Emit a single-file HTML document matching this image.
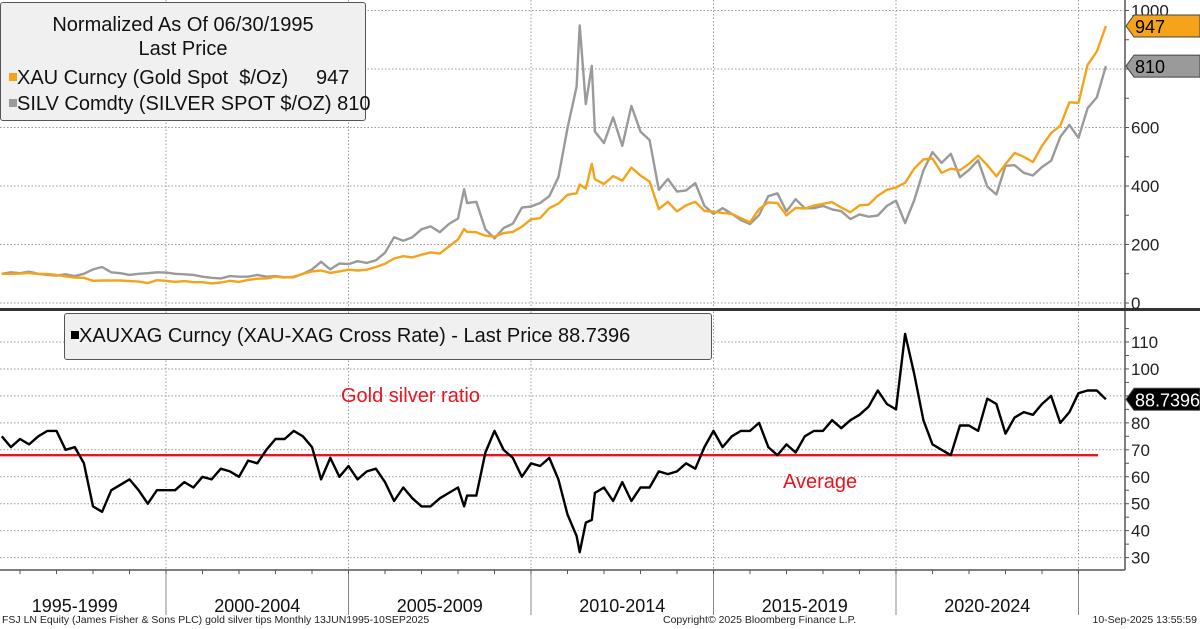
<!DOCTYPE html>
<html><head><meta charset="utf-8"><style>
body{margin:0;background:#fff;}
svg{display:block;font-family:"Liberation Sans",sans-serif;}
</style></head><body>
<svg id="c" width="1200" height="629" viewBox="0 0 1200 629"></svg>
<script>
const dates=["1995-06","1995-09","1995-12",
"1996-03","1996-06","1996-09","1996-12","1997-03","1997-06","1997-09","1997-12",
"1998-03","1998-06","1998-09","1998-12","1999-03","1999-06","1999-09","1999-12",
"2000-03","2000-06","2000-09","2000-12","2001-03","2001-06","2001-09","2001-12",
"2002-03","2002-06","2002-09","2002-12","2003-03","2003-06","2003-09","2003-12",
"2004-03","2004-06","2004-09","2004-12","2005-03","2005-06","2005-09","2005-12",
"2006-03","2006-06","2006-09","2006-12","2007-03","2007-06","2007-09","2007-12",
"2008-02","2008-03","2008-06","2008-09","2008-12","2009-03","2009-06","2009-09","2009-12",
"2010-03","2010-06","2010-09","2010-12","2011-03","2011-04","2011-06","2011-08","2011-09","2011-12",
"2012-03","2012-06","2012-09","2012-12","2013-03","2013-06","2013-09","2013-12",
"2014-03","2014-06","2014-09","2014-12","2015-03","2015-06","2015-09","2015-12",
"2016-03","2016-06","2016-09","2016-12","2017-03","2017-06","2017-09","2017-12",
"2018-03","2018-06","2018-09","2018-12","2019-03","2019-06","2019-09","2019-12",
"2020-03","2020-06","2020-09","2020-12","2021-03","2021-06","2021-09","2021-12",
"2022-03","2022-06","2022-09","2022-12","2023-03","2023-06","2023-09","2023-12",
"2024-03","2024-06","2024-09","2024-12","2025-03","2025-06","2025-09"];
const gold=[100,100,101,103,99,99,96,91,87,86,76,77,77,77,75,73,68,78,76,72,75,71,71,67,70,76,72,79,83,84,90,87,90,100,108,111,103,108,114,111,114,123,134,152,160,156,165,173,169,193,217,
253,243,242,230,227,239,243,261,286,290,324,340,370,375,405,391,476,423,407,434,418,463,436,415,321,346,313,334,346,315,312,308,305,290,276,321,344,342,300,325,323,333,339,345,326,310,334,336,367,387,395,411,460,491,494,445,459,454,476,504,471,433,475,513,500,482,537,581,606,686,684,814,860,947];
const silver=[100,105,102,107,100,96,94,98,92,100,115,123,105,102,96,100,102,105,104,100,98,96,90,86,84,92,90,90,96,90,92,88,88,100,115,141,115,135,133,143,137,146,172,225,213,225,252,262,242,270,289,
389,342,346,252,221,256,271,326,330,342,365,430,598,740,949,680,811,586,547,635,537,674,586,557,387,424,381,385,410,332,305,324,305,283,270,301,365,375,313,355,324,324,332,320,314,287,303,295,299,332,350,273,352,453,516,479,510,430,455,488,398,371,469,471,445,436,465,486,568,609,564,666,703,810];
const ratio=[75,71,74,72,75,77,77,70,71,65,49,47,55,57,59,55,50,55,55,55,58,56,60,59,63,62,60,66,65,70,74,74,77,75,71,59,67,60,64,59,62,63,58,51,56,52,49,49,52,54,56,
49,53,53,69,77,70,67,60,65,64,67,59,46,38,32,43,44,54,56,51,58,51,56,56,62,61,62,65,63,71,77,71,75,77,77,80,71,68,72,69,75,77,77,81,78,81,83,86,92,87,85,113,98,81,72,70,68,79,79,77,89,87,76,82,84,83,87,90,80,84,91,92,92,88.74];
const topTicks=[0,200,400,600,800,1000];
const topLabels=["0","200","400","600","","1000"];
const botTicks=[30,40,50,60,70,80,90,100,110];
const botLabels=["30","40","50","60","70","80","","100","110"];
const periods=["1995-1999","2000-2004","2005-2009","2010-2014","2015-2019","2020-2024"];
const ratioAverage=68;

const NS="http://www.w3.org/2000/svg";
const svg=document.getElementById('c');
function mk(tag,attrs,parent){const e=document.createElementNS(NS,tag);for(const k in attrs)e.setAttribute(k,attrs[k]);(parent||svg).appendChild(e);return e;}
function tx(d){const [y,m]=d.split('-').map(Number);return 166+(y+m/12-2000)*36.5;}
function yx(yr){return 166+(yr-2000)*36.5;}
function yTop(v){return 303-v*0.2925;}
function yBot(v){return 342+(110-v)*2.695;}
const PR=1124;

// grids
for(const t of topTicks){const g=mk('line',{x1:0,x2:PR,y1:yTop(t),y2:yTop(t),stroke:'#999','stroke-dasharray':'1.5,2','stroke-width':1});

}
for(const t of botTicks){const g=mk('line',{x1:0,x2:PR,y1:yBot(t),y2:yBot(t),stroke:'#999','stroke-dasharray':'1.5,2','stroke-width':1});

}
for(let yr=2000;yr<=2025;yr+=5){const g=mk('line',{x1:yx(yr),x2:yx(yr),y1:0,y2:570,stroke:'#999','stroke-dasharray':'1.5,2','stroke-width':1});


const s=mk('line',{x1:yx(yr),x2:yx(yr),y1:570,y2:615,stroke:'#888','stroke-width':1});

}

// series
function line(vals,fy,color,w,name){let d='';vals.forEach((v,i)=>{d+=(i?'L':'M')+tx(dates[i]).toFixed(1)+','+fy(v).toFixed(1);});
const p=mk('path',{d:d,fill:'none',stroke:color,'stroke-width':w,'stroke-linejoin':'round'});

}
line(silver,yTop,'#9a9a9a',2.4,'silver-line');
line(gold,yTop,'#f5a31a',2.4,'gold-line');
const av=mk('line',{x1:0,x2:1098,y1:yBot(ratioAverage),y2:yBot(ratioAverage),stroke:'#e8141e','stroke-width':2.4});


line(ratio,yBot,'#000',2.4,'ratio-line');

// axes
mk('line',{x1:PR+1,x2:PR+1,y1:0,y2:570,stroke:'#555','stroke-width':1.5});
mk('rect',{x:0,y:308,width:1200,height:3,fill:'#333'});
mk('line',{x1:0,x2:PR+1,y1:570,y2:570,stroke:'#555','stroke-width':1.5});
for(let yr=1996;yr<=2025;yr++){mk('line',{x1:yx(yr),x2:yx(yr),y1:570,y2:574,stroke:'#555'});}
for(let v=0;v<=1000;v+=100){mk('line',{x1:PR+1,x2:PR+5,y1:yTop(v),y2:yTop(v),stroke:'#555'});}
for(let v=30;v<=115;v+=5){mk('line',{x1:PR+1,x2:PR+5,y1:yBot(v),y2:yBot(v),stroke:'#555'});}
topTicks.forEach((t,i)=>{if(!topLabels[i])return;const e=mk('text',{x:1131,y:yTop(t)+6,'font-size':17,fill:'#222'});e.textContent=topLabels[i];

});
botTicks.forEach((t,i)=>{if(!botLabels[i])return;const e=mk('text',{x:1131,y:yBot(t)+6,'font-size':17,fill:'#222'});e.textContent=botLabels[i];

});
periods.forEach((p,i)=>{const e=mk('text',{x:yx(1997.5+5*i),y:612,'font-size':18,'text-anchor':'middle',fill:'#111'});e.textContent=p;

});

// value tags
function tag(y,label,bg,fg,name){const p=mk('path',{d:`M1126,${y} L1134,${y-11} L1200,${y-11} L1200,${y+11} L1134,${y+11} Z`,fill:bg,stroke:'#444','stroke-width':1});


const t=mk('text',{x:1135,y:y+7,'font-size':18,fill:fg});t.textContent=label;}
tag(yTop(gold[gold.length-1])+0,'947','#f5a31a','#000','gold-last-tag');
tag(yTop(silver[silver.length-1]),'810','#9a9a9a','#000','silver-last-tag');
tag(yBot(ratio[ratio.length-1]),'88.7396','#000','#fff','ratio-last-tag');
</script>
<div style="position:absolute;left:0;top:2px;width:366px;height:119px;background:#f0f0f0;border:1px solid #555;border-radius:3px;font:20px 'Liberation Sans',sans-serif;color:#111;box-sizing:border-box;">
<div style="text-align:center;margin-top:10px;line-height:24px">Normalized As Of 06/30/1995<br>Last Price</div>
<div style="position:absolute;left:8px;top:62px;white-space:pre;line-height:26px"><span style="display:inline-block;width:8px;height:8px;background:#f5a31a;vertical-align:3px"></span>XAU Curncy (Gold Spot  $/Oz)     947</div>
<div style="position:absolute;left:8px;top:88px;white-space:pre;line-height:26px"><span style="display:inline-block;width:8px;height:8px;background:#9a9a9a;vertical-align:3px"></span>SILV Comdty (SILVER SPOT $/OZ) 810</div>
</div>
<div style="position:absolute;left:64px;top:313px;width:648px;height:47px;background:#f0f0f0;border:1px solid #555;border-radius:3px;font:20px 'Liberation Sans',sans-serif;color:#111;box-sizing:border-box;padding:11px 0 0 6px;white-space:nowrap"><span style="display:inline-block;width:8px;height:8px;background:#000;vertical-align:3px"></span>XAUXAG Curncy (XAU-XAG Cross Rate) - Last Price 88.7396</div>
<div style="position:absolute;left:341px;top:385px;font:20px 'Liberation Sans',sans-serif;color:#e8141e">Gold silver ratio</div>
<div style="position:absolute;left:783px;top:471px;font:20px 'Liberation Sans',sans-serif;color:#e8141e">Average</div>
<div style="position:absolute;left:2px;top:614px;font:10.5px 'Liberation Sans',sans-serif;color:#222;white-space:nowrap">FSJ LN Equity (James Fisher &amp; Sons PLC) gold silver tips  Monthly 13JUN1995-10SEP2025</div>
<div style="position:absolute;left:663px;top:614px;font:10.5px 'Liberation Sans',sans-serif;color:#222;white-space:nowrap">Copyright© 2025 Bloomberg Finance L.P.</div>
<div style="position:absolute;right:3px;top:614px;font:10.5px 'Liberation Sans',sans-serif;color:#222;white-space:nowrap">10-Sep-2025 13:55:59</div>
<style>body{position:relative;width:1200px;height:629px;overflow:hidden}</style>
</body></html>
